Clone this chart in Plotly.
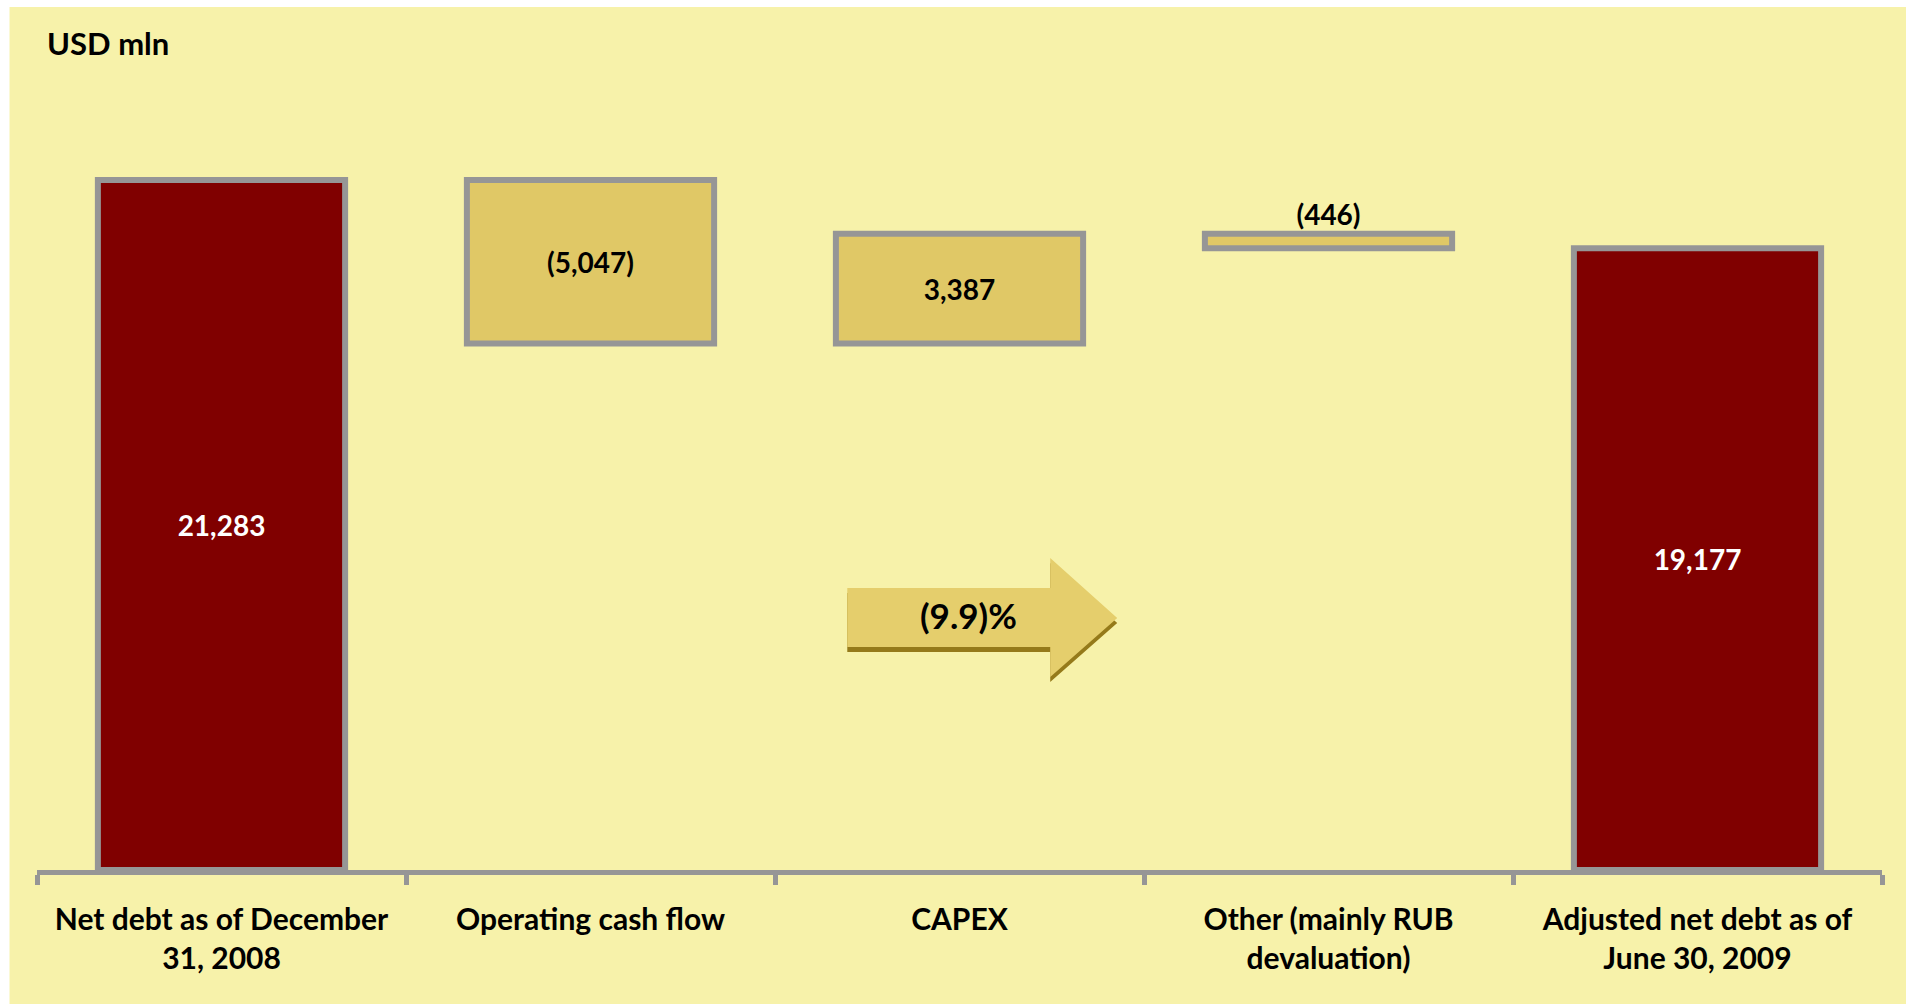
import plotly.graph_objects as go

# ── Données ───────────────────────────────────────────────────────────────────
categories = [
    "Net debt as of December<br>31, 2008",
    "Operating cash flow",
    "CAPEX",
    "Other (mainly RUB<br>devaluation)",
    "Adjusted net debt as of<br>June 30, 2009",
]
changes = [21283, -5047, 3387, -446, 19177]
kinds = ["total", "step", "step", "step", "total"]
change_pct = "(9.9)%"

# ── Thème ─────────────────────────────────────────────────────────────────────
BG = "#F7F2AA"
DARK_RED = "#800000"
GOLD = "#E0C866"
ARROW = "#E5CE6C"
ARROW_SHADOW = "#957A1A"
GREY = "#969696"
FONT = "Lato"

W, H = 1910, 1007
ML, MR, MT, MB = 36.5, 28, 100, 137


def px_x(x):
    return (x - ML) / (W - ML - MR)


def px_y(y):
    return (H - MB - y) / (H - MT - MB)


# bases / hauteurs du waterfall
bases, heights, running = [], [], 0
for v, k in zip(changes, kinds):
    if k == "total":
        bases.append(0)
        heights.append(v)
        running = v
    else:
        end = running + v
        bases.append(min(running, end))
        heights.append(abs(v))
        running = end

labels = [f"({abs(v):,})" if v < 0 else f"{v:,}" for v in changes]
colors = [DARK_RED if k == "total" else GOLD for k in kinds]
txt_colors = ["white" if k == "total" else "black" for k in kinds]
positions = ["outside" if h < 1000 else "inside" for h in heights]

fig = go.Figure(go.Bar(
    x=categories, y=heights, base=bases,
    width=0.67,
    marker=dict(color=colors, line=dict(color=GREY, width=6)),
    text=labels, textposition=positions, insidetextanchor="middle",
    textangle=0, constraintext="none", cliponaxis=False,
    textfont=dict(family=FONT, size=28, color=txt_colors, weight="bold"),
    hoverinfo="skip",
))

# fond jaune
fig.add_shape(type="rect", xref="paper", yref="paper", layer="below",
              x0=px_x(9), x1=px_x(1906), y0=px_y(1004), y1=px_y(7),
              fillcolor=BG, line=dict(width=0))


# flèche (9.9)%
def arrow_path(dy=0):
    pts = [(847, 588), (1050, 588), (1050, 558), (1117, 618),
           (1050, 677), (1050, 647), (847, 647)]
    return "M " + " L ".join(f"{px_x(x):.5f},{px_y(y + dy):.5f}" for x, y in pts) + " Z"


fig.add_shape(type="path", xref="paper", yref="paper", path=arrow_path(5),
              fillcolor=ARROW_SHADOW, line=dict(width=0))
fig.add_shape(type="path", xref="paper", yref="paper", path=arrow_path(0),
              fillcolor=ARROW, line=dict(width=0))
fig.add_annotation(x=px_x(968), y=px_y(615), xref="paper", yref="paper",
                   xanchor="center", yanchor="middle",
                   text=change_pct, showarrow=False,
                   font=dict(family=FONT, size=35, color="black", weight="bold"))

fig.add_annotation(x=px_x(45), y=px_y(43), xref="paper", yref="paper",
                   xanchor="left", yanchor="middle", text="USD mln", showarrow=False,
                   font=dict(family=FONT, size=31, color="black", weight="bold"))

ymax = 21283 / (H - MB - 180) * (H - MT - MB)

fig.update_layout(
    width=W, height=H,
    paper_bgcolor="white", plot_bgcolor="rgba(0,0,0,0)",
    margin=dict(l=ML, r=MR, t=MT, b=MB),
    showlegend=False,
    xaxis=dict(
        type="category", range=[-0.5, len(categories) - 0.5],
        tickson="boundaries", ticks="outside", ticklen=10, tickwidth=5,
        tickcolor=GREY, showline=True, linecolor=GREY, linewidth=5,
        showgrid=False, zeroline=False, ticklabelstandoff=19,
        tickfont=dict(family=FONT, size=30, color="black", weight="bold"),
    ),
    yaxis=dict(range=[0, ymax], visible=False),
)

fig.write_html("out.html", config={"displayModeBar": False},
               post_script="document.body.style.margin='0';document.body.style.overflow='hidden';")
